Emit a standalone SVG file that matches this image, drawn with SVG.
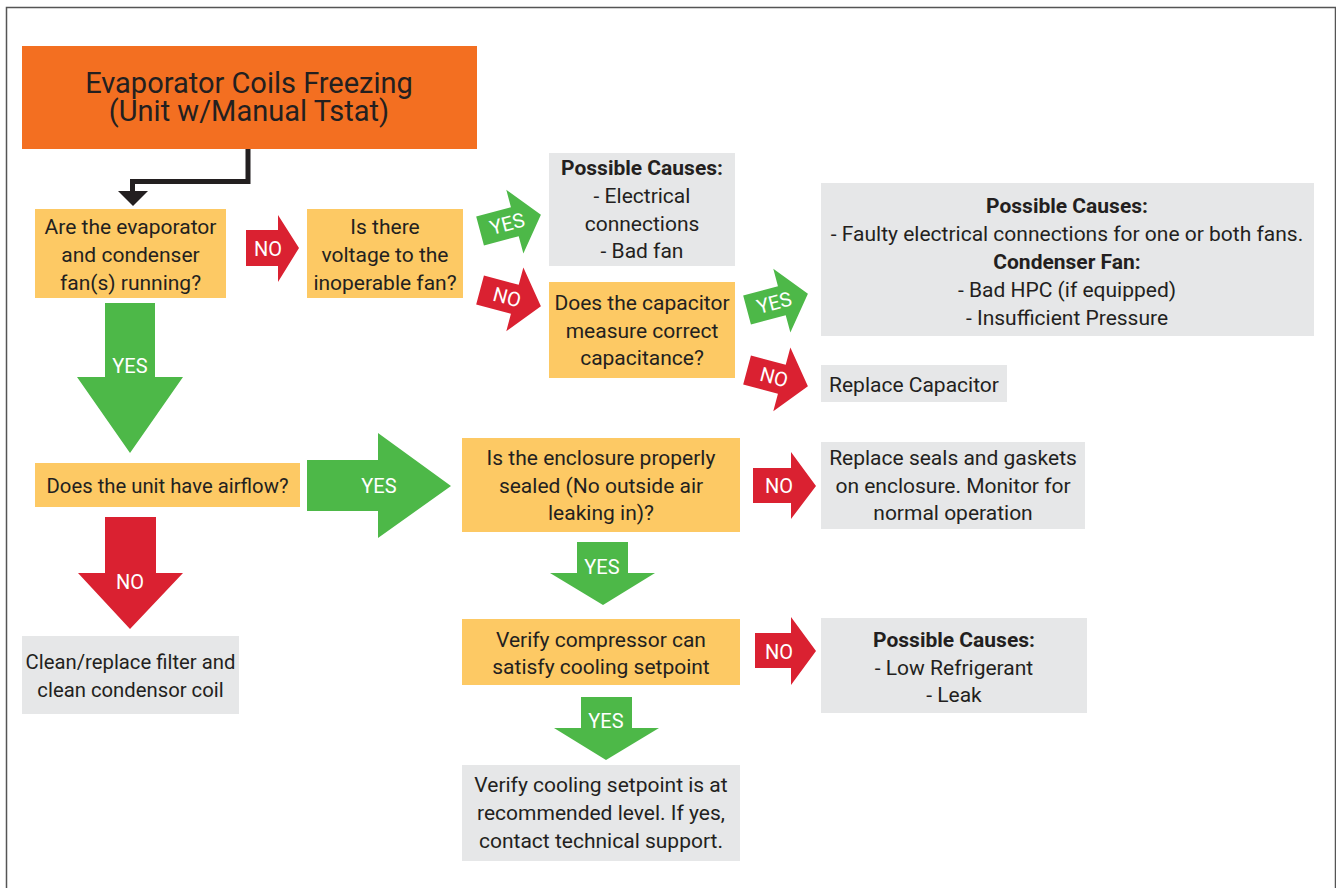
<svg xmlns="http://www.w3.org/2000/svg" width="1336" height="888" viewBox="0 0 1336 888">
<style>
text{font-family:Roboto,"Liberation Sans",sans-serif;fill:#231F20;text-anchor:middle;font-size:21px}
.b{font-weight:bold}
.s{font-size:20.3px}
.t{font-size:29px}
.l{fill:#fff;font-size:20px}
.q{fill:#FDC964}
.g{fill:#E6E7E8}
.ya{fill:#4DB848}
.na{fill:#DA2131}
</style>
<defs>
<path id="ta" d="M-31,-15 H5 V-33 L32,0 L5,33 V15 H-31 Z"/>
</defs>
<rect width="1336" height="888" fill="#fff"/>
<path d="M6.5,888 V7.5 H1335.5 V888" fill="none" stroke="#555" stroke-width="1.5"/>

<g id="title">
<rect x="22" y="46" width="455" height="103" fill="#F36F21"/>
<text class="t" x="249" y="93">Evaporator Coils Freezing</text>
<text class="t" x="249" y="121">(Unit w/Manual Tstat)</text>
</g>

<g id="q1">
<rect class="q" x="35" y="209" width="191" height="89"/>
<text x="130.5" y="234">Are the evaporator</text>
<text x="130.5" y="262">and condenser</text>
<text x="130.5" y="289.5">fan(s) running?</text>
</g>

<g id="q2">
<rect class="q" x="307" y="209" width="156" height="89"/>
<text x="385" y="234">Is there</text>
<text x="385" y="262">voltage to the</text>
<text x="385" y="289.5">inoperable fan?</text>
</g>

<g id="c1">
<rect class="g" x="549" y="153" width="186" height="113"/>
<text class="b" x="642" y="175">Possible Causes:</text>
<text x="642" y="203">- Electrical</text>
<text x="642" y="231">connections</text>
<text x="642" y="258">- Bad fan</text>
</g>

<g id="q3">
<rect class="q" x="549" y="282" width="186" height="96"/>
<text x="642" y="310">Does the capacitor</text>
<text x="642" y="338">measure correct</text>
<text x="642" y="365">capacitance?</text>
</g>

<g id="c2">
<rect class="g" x="821" y="183" width="493" height="153"/>
<text class="b" x="1067" y="213">Possible Causes:</text>
<text x="1067" y="241">- Faulty electrical connections for one or both fans.</text>
<text class="b" x="1067" y="269">Condenser Fan:</text>
<text x="1067" y="297">- Bad HPC (if equipped)</text>
<text x="1067" y="325">- Insufficient Pressure</text>
</g>

<g id="r1">
<rect class="g" x="821" y="365" width="186" height="37"/>
<text x="914" y="392">Replace Capacitor</text>
</g>

<g id="q4">
<rect class="q" x="35" y="463" width="265" height="44"/>
<text class="s" x="167.5" y="493">Does the unit have airflow?</text>
</g>

<g id="r2">
<rect class="g" x="22" y="636" width="217" height="78"/>
<text class="s" x="130.5" y="669">Clean/replace filter and</text>
<text class="s" x="130.5" y="697">clean condensor coil</text>
</g>

<g id="q5">
<rect class="q" x="462" y="438" width="278" height="94"/>
<text x="601" y="465">Is the enclosure properly</text>
<text x="601" y="493">sealed (No outside air</text>
<text x="601" y="520">leaking in)?</text>
</g>

<g id="r3">
<rect class="g" x="821" y="442" width="264" height="87"/>
<text x="953" y="465">Replace seals and gaskets</text>
<text x="953" y="493">on enclosure. Monitor for</text>
<text x="953" y="520">normal operation</text>
</g>

<g id="q6">
<rect class="q" x="462" y="619" width="278" height="66"/>
<text x="601" y="647">Verify compressor can</text>
<text x="601" y="674">satisfy cooling setpoint</text>
</g>

<g id="c3">
<rect class="g" x="821" y="618" width="266" height="95"/>
<text class="b" x="954" y="647">Possible Causes:</text>
<text x="954" y="675">- Low Refrigerant</text>
<text x="954" y="702">- Leak</text>
</g>

<g id="r4">
<rect class="g" x="462" y="765" width="278" height="96"/>
<text x="601" y="792">Verify cooling setpoint is at</text>
<text x="601" y="820">recommended level. If yes,</text>
<text x="601" y="848">contact technical support.</text>
</g>

<g id="connectors">
<path d="M248,149 V181.5 H132.5 V192" fill="none" stroke="#231F20" stroke-width="5"/>
<polygon points="118,191 148,191 133,206" fill="#231F20"/>

<polygon class="na" points="246,230 278,230 278,215 299,248 278,282 278,266 246,266"/>
<text class="l" x="268" y="256">NO</text>

<g transform="translate(510,223) rotate(-15)">
<use href="#ta" class="ya"/>
<text class="l" x="-3" y="7">YES</text>
</g>
<g transform="translate(510,298) rotate(15)">
<use href="#ta" class="na"/>
<text class="l" x="-3" y="7">NO</text>
</g>
<g transform="translate(777,302) rotate(-15)">
<use href="#ta" class="ya"/>
<text class="l" x="-3" y="7">YES</text>
</g>
<g transform="translate(777,378) rotate(15)">
<use href="#ta" class="na"/>
<text class="l" x="-3" y="7">NO</text>
</g>

<polygon class="ya" points="105,303 155,303 155,377 183,377 130,453 77,377 105,377"/>
<text class="l" x="130" y="373">YES</text>

<polygon class="ya" points="307,460 378,460 378,433 451,486 378,538 378,511 307,511"/>
<text class="l" x="379" y="493">YES</text>

<polygon class="na" points="105,517 156,517 156,573 183,573 130,629 78,573 105,573"/>
<text class="l" x="130" y="589">NO</text>

<polygon class="na" points="753,468 791,468 791,452 816,486 791,519 791,503 753,503"/>
<text class="l" x="779" y="493">NO</text>

<polygon class="ya" points="577,542 628,542 628,573 655,573 603,605 550,573 577,573"/>
<text class="l" x="602" y="574">YES</text>

<polygon class="na" points="755,633 791,633 791,617 816,651 791,685 791,668 755,668"/>
<text class="l" x="779" y="659">NO</text>

<polygon class="ya" points="581,697 632,697 632,728 659,728 606,760 554,728 581,728"/>
<text class="l" x="606" y="728">YES</text>
</g>
</svg>
